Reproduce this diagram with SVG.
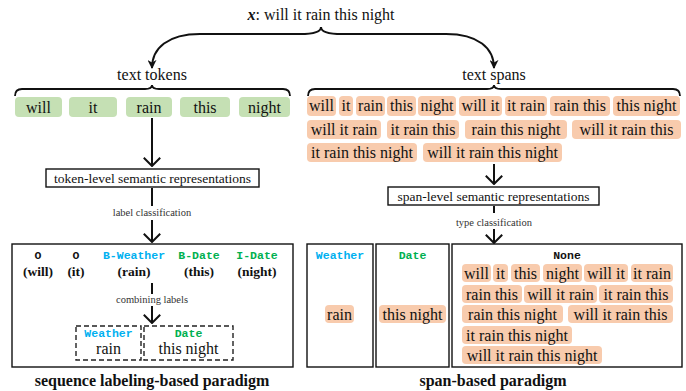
<svg xmlns="http://www.w3.org/2000/svg" width="686" height="391" viewBox="0 0 686 391">
<style>
text{font-family:"Liberation Serif","Times New Roman",serif;fill:#111}
.t16{font-size:16px;text-anchor:middle}
.t13{font-size:13.5px;text-anchor:middle}
.sm{font-size:10.5px;text-anchor:middle;fill:#333}
.b13{font-size:13.5px;font-weight:bold;text-anchor:middle}
.title{font-size:16px;font-weight:bold;text-anchor:middle}
.mono{font-family:"Liberation Mono","Courier New",monospace;font-weight:bold;font-size:11.5px;text-anchor:middle}
.blue{fill:#00b0f0}.green{fill:#00b050}
.g{fill:#c5e0b4}
.o{fill:#f8cbad}
.box{fill:none;stroke:#111;stroke-width:1.4}
.dbox{fill:none;stroke:#222;stroke-width:1.4;stroke-dasharray:5,3}
.ln{fill:none;stroke:#111;stroke-width:2}
.br{fill:none;stroke:#111;stroke-width:1.8}
</style>
<defs>
<marker id="tri" viewBox="0 0 10 10" refX="9" refY="5" markerWidth="4.5" markerHeight="4.5" orient="auto" markerUnits="strokeWidth">
<path d="M0,0 L10,5 L0,10 L3,5 Z" fill="#111"/>
</marker>
<marker id="chev" viewBox="0 0 10 18" refX="9" refY="9" markerWidth="10" markerHeight="18" orient="auto" markerUnits="userSpaceOnUse">
<path d="M0.8,0.8 L9,9 L0.8,17.2" fill="none" stroke="#111" stroke-width="2"/>
</marker>
</defs>

<g id="input">
<text x="321" y="20" class="t16"><tspan font-weight="bold" font-style="italic">x</tspan>: will it rain this night</text>
</g>

<g id="connectors">
<path class="ln" d="M321,27 C321,32 314,34 300,34 L200,34 C168,34 152,48 152,68" marker-end="url(#tri)"/>
<path class="ln" d="M321,27 C321,32 328,34 342,34 L446,34 C478,34 494,48 494,68" marker-end="url(#tri)"/>
<path class="br" d="M15,96 C15,91 17,89 22,89 L145,89 C150,89 152,87 152,85 C152,87 154,89 159,89 L283,89 C288,89 290,91 290,96"/>
<path class="br" d="M308,96 C308,91 310,89 315,89 L487,89 C492,89 494,87 494,85 C494,87 496,89 501,89 L673,89 C678,89 680,91 680,96"/>
<line class="ln" x1="152" y1="118" x2="152" y2="166" marker-end="url(#chev)"/>
<line class="ln" x1="152" y1="188" x2="152" y2="206"/>
<line class="ln" x1="152" y1="220" x2="152" y2="242" marker-end="url(#chev)"/>
<line class="ln" x1="152" y1="283" x2="152" y2="294"/>
<line class="ln" x1="152" y1="306" x2="152" y2="323" marker-end="url(#chev)"/>
<line class="ln" x1="494" y1="164" x2="494" y2="184" marker-end="url(#chev)"/>
<line class="ln" x1="494" y1="206" x2="494" y2="213"/>
<line class="ln" x1="494" y1="229" x2="494" y2="243" marker-end="url(#chev)"/>
</g>

<g id="text-tokens">
<text x="152" y="80" class="t16">text tokens</text>
<rect class="g" x="15" y="97" width="47" height="20" rx="4"/><text x="38.5" y="113" class="t16">will</text>
<rect class="g" x="69" y="97" width="48" height="20" rx="4"/><text x="93" y="113" class="t16">it</text>
<rect class="g" x="126" y="97" width="46" height="20" rx="4"/><text x="149" y="113" class="t16">rain</text>
<rect class="g" x="180" y="97" width="50" height="20" rx="4"/><text x="205" y="113" class="t16">this</text>
<rect class="g" x="239" y="97" width="51" height="20" rx="4"/><text x="264.5" y="113" class="t16">night</text>
</g>

<g id="token-repr">
<rect class="box" x="46" y="169" width="213" height="18" style="fill:#fff"/>
<text x="152.5" y="182.5" class="t13">token-level semantic representations</text>
</g>
<g id="label-classification"><text x="152" y="216" class="sm">label classification</text></g>

<g id="seq-labels">
<rect class="box" x="12" y="244" width="281" height="123"/>
<text x="38" y="259" class="mono">O</text><text x="38" y="276" class="b13">(will)</text>
<text x="76" y="259" class="mono">O</text><text x="76" y="276" class="b13">(it)</text>
<text x="134" y="259" class="mono blue">B-Weather</text><text x="134" y="276" class="b13">(rain)</text>
<text x="199" y="259" class="mono green">B-Date</text><text x="199" y="276" class="b13">(this)</text>
<text x="257" y="259" class="mono green">I-Date</text><text x="257" y="276" class="b13">(night)</text>
<text x="152" y="303" class="sm">combining labels</text>
</g>
<g id="seq-weather">
<rect class="dbox" x="76" y="326" width="65" height="34"/>
<text x="108.5" y="337" class="mono blue">Weather</text>
<text x="108.5" y="354" class="t16">rain</text>
</g>
<g id="seq-date">
<rect class="dbox" x="144" y="326" width="89" height="34"/>
<text x="188.5" y="337" class="mono green">Date</text>
<text x="188.5" y="354" class="t16">this night</text>
</g>
<g id="seq-title"><text x="152" y="386" class="title">sequence labeling-based paradigm</text></g>

<g id="text-spans">
<text x="494" y="80" class="t16">text spans</text>
<rect class="o" x="307" y="96" width="29" height="20" rx="4"/><text x="321.5" y="111" class="t16">will</text>
<rect class="o" x="339" y="96" width="14" height="20" rx="4"/><text x="346" y="111" class="t16">it</text>
<rect class="o" x="356" y="96" width="29" height="20" rx="4"/><text x="370.5" y="111" class="t16">rain</text>
<rect class="o" x="387" y="96" width="29" height="20" rx="4"/><text x="401.5" y="111" class="t16">this</text>
<rect class="o" x="418" y="96" width="38" height="20" rx="4"/><text x="437" y="111" class="t16">night</text>
<rect class="o" x="459" y="96" width="43" height="20" rx="4"/><text x="480.5" y="111" class="t16">will it</text>
<rect class="o" x="505" y="96" width="42" height="20" rx="4"/><text x="526" y="111" class="t16">it rain</text>
<rect class="o" x="550" y="96" width="60" height="20" rx="4"/><text x="580" y="111" class="t16">rain this</text>
<rect class="o" x="613" y="96" width="67" height="20" rx="4"/><text x="646.5" y="111" class="t16">this night</text>
<rect class="o" x="307" y="120" width="74" height="19" rx="4"/><text x="344" y="135" class="t16">will it rain</text>
<rect class="o" x="387" y="120" width="72" height="19" rx="4"/><text x="423" y="135" class="t16">it rain this</text>
<rect class="o" x="465" y="120" width="102" height="19" rx="4"/><text x="516" y="135" class="t16">rain this night</text>
<rect class="o" x="572" y="120" width="109" height="19" rx="4"/><text x="626.5" y="135" class="t16">will it rain this</text>
<rect class="o" x="307" y="143" width="110" height="19" rx="4"/><text x="362" y="158" class="t16">it rain this night</text>
<rect class="o" x="423" y="143" width="139" height="19" rx="4"/><text x="492.5" y="158" class="t16">will it rain this night</text>
</g>

<g id="span-repr">
<rect class="box" x="388" y="187" width="211" height="18" style="fill:#fff"/>
<text x="493.5" y="200.5" class="t13">span-level semantic representations</text>
</g>
<g id="type-classification"><text x="494" y="226" class="sm">type classification</text></g>

<g id="span-weather">
<rect class="box" x="307" y="244" width="66" height="123"/>
<text x="340" y="259" class="mono blue">Weather</text>
<rect class="o" x="325" y="305" width="29" height="18" rx="4"/><text x="339.5" y="319.5" class="t16">rain</text>
</g>
<g id="span-date">
<rect class="box" x="376" y="244" width="73" height="123"/>
<text x="412.5" y="259" class="mono green">Date</text>
<rect class="o" x="379" y="305" width="67" height="18" rx="4"/><text x="412.5" y="319.5" class="t16">this night</text>
</g>
<g id="span-none">
<rect class="box" x="452" y="244" width="230" height="123"/>
<text x="567" y="259" class="mono">None</text>
<rect class="o" x="462" y="264" width="29" height="18" rx="4"/><text x="476.5" y="278.5" class="t16">will</text>
<rect class="o" x="493" y="264" width="15" height="18" rx="4"/><text x="500.5" y="278.5" class="t16">it</text>
<rect class="o" x="511" y="264" width="29" height="18" rx="4"/><text x="525.5" y="278.5" class="t16">this</text>
<rect class="o" x="543" y="264" width="39" height="18" rx="4"/><text x="562.5" y="278.5" class="t16">night</text>
<rect class="o" x="584" y="264" width="44" height="18" rx="4"/><text x="606" y="278.5" class="t16">will it</text>
<rect class="o" x="631" y="264" width="42" height="18" rx="4"/><text x="652" y="278.5" class="t16">it rain</text>
<rect class="o" x="462" y="285" width="60" height="18" rx="4"/><text x="492" y="299.5" class="t16">rain this</text>
<rect class="o" x="524" y="285" width="73" height="18" rx="4"/><text x="560.5" y="299.5" class="t16">will it rain</text>
<rect class="o" x="599" y="285" width="74" height="18" rx="4"/><text x="636" y="299.5" class="t16">it rain this</text>
<rect class="o" x="462" y="305" width="101" height="18" rx="4"/><text x="512.5" y="319.5" class="t16">rain this night</text>
<rect class="o" x="568" y="305" width="105" height="18" rx="4"/><text x="620.5" y="319.5" class="t16">will it rain this</text>
<rect class="o" x="462" y="326" width="110" height="18" rx="4"/><text x="517" y="340.5" class="t16">it rain this night</text>
<rect class="o" x="462" y="346" width="140" height="18" rx="4"/><text x="532" y="360.5" class="t16">will it rain this night</text>
</g>
<g id="span-title"><text x="493" y="386" class="title">span-based paradigm</text></g>
</svg>
